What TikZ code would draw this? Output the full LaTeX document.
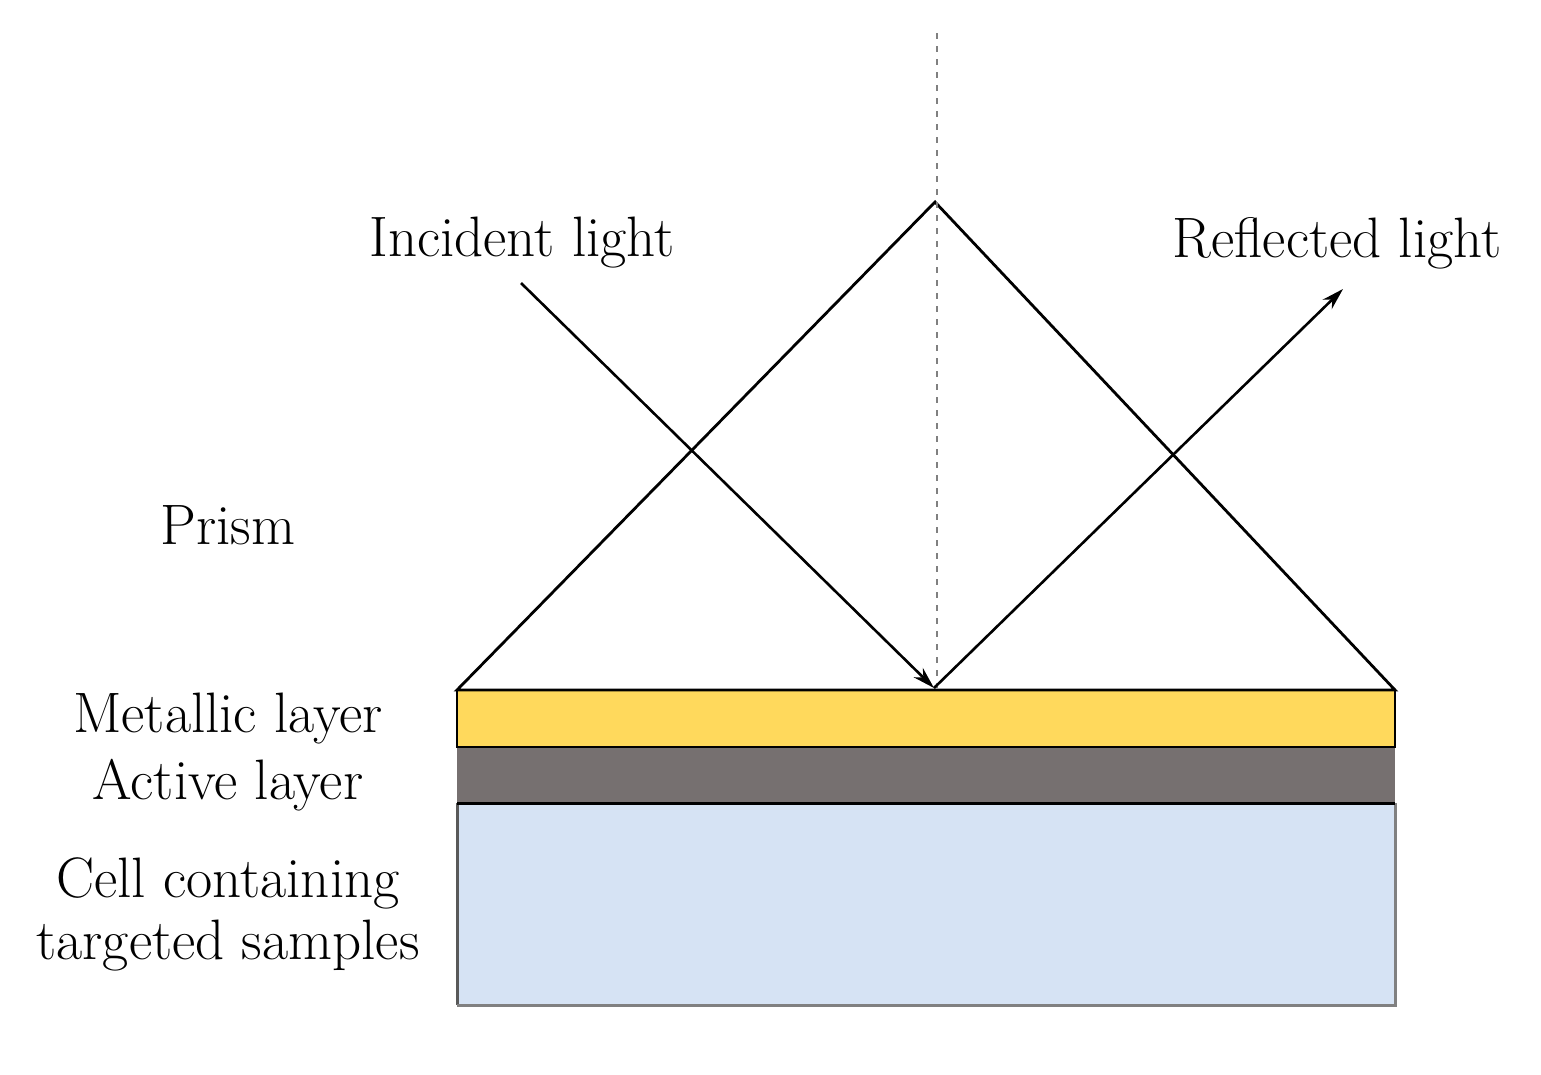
\documentclass[tikz,border=0pt]{standalone}
\usetikzlibrary{arrows.meta}
\definecolor{metal}{HTML}{FFD95C}
\definecolor{active}{HTML}{767070}
\definecolor{cell}{HTML}{D6E3F4}
\definecolor{dashgray}{HTML}{808080}
\tikzset{
  lbl/.style={font=\fontsize{57}{62}\selectfont, align=center, inner sep=0pt},
  ray/.style={line width=2.6pt, -{Stealth[length=22pt,width=13pt]}},
  prismline/.style={line width=2.8pt, line join=miter},
}
\begin{document}
\begin{tikzpicture}[x=1pt,y=-1pt]
\useasboundingbox (0,0) rectangle (1541,1074);
% layers
\fill[cell] (457,803) rectangle (1395,1005);
\draw[line width=3pt, draw=gray!70!black] (457,803) -- (457,1005);
\draw[line width=3pt, draw=gray] (457,1005) -- (1395,1005) -- (1395,803);
\fill[active] (457,747) rectangle (1395,803);
\fill[metal] (457,690) rectangle (1395,747);
\draw[line width=3pt, draw=black] (457,803) -- (1395,803);
\draw[line width=1.5pt, draw=gray] (457,747) -- (1395,747);
\draw[line width=2pt] (457,690) rectangle (1395,747);
% prism
\coordinate (apex) at (935,202);
\coordinate (bl) at (457,690);
\coordinate (br) at (1395,690);
\draw[prismline] (bl) -- (apex) -- (br) -- cycle;
% normal
\coordinate (ntop) at (937,33);
\coordinate (nbot) at (937,688);
\draw[dashgray, line width=2.2pt, dash pattern=on 6pt off 7pt] (ntop) -- (nbot);
% rays
\coordinate (hit) at (934,688);
\coordinate (inc) at (521,283);
\coordinate (refl) at (1343,289);
\draw[ray] (inc) -- (hit);
\draw[ray] (hit) -- (refl);
% labels
\node[lbl] (tinc) at (522,243) {Incident light};
\node[lbl] (tref) at (1337,243) {Reflected light};
\node[lbl] (tprism) at (228,525) {Prism};
\node[lbl] (tmetal) at (228,718) {Metallic layer};
\node[lbl] (tact) at (228,785) {Active layer};
\node[lbl] (tcell) at (228,914) {Cell containing\\targeted samples};
\end{tikzpicture}
\end{document}
